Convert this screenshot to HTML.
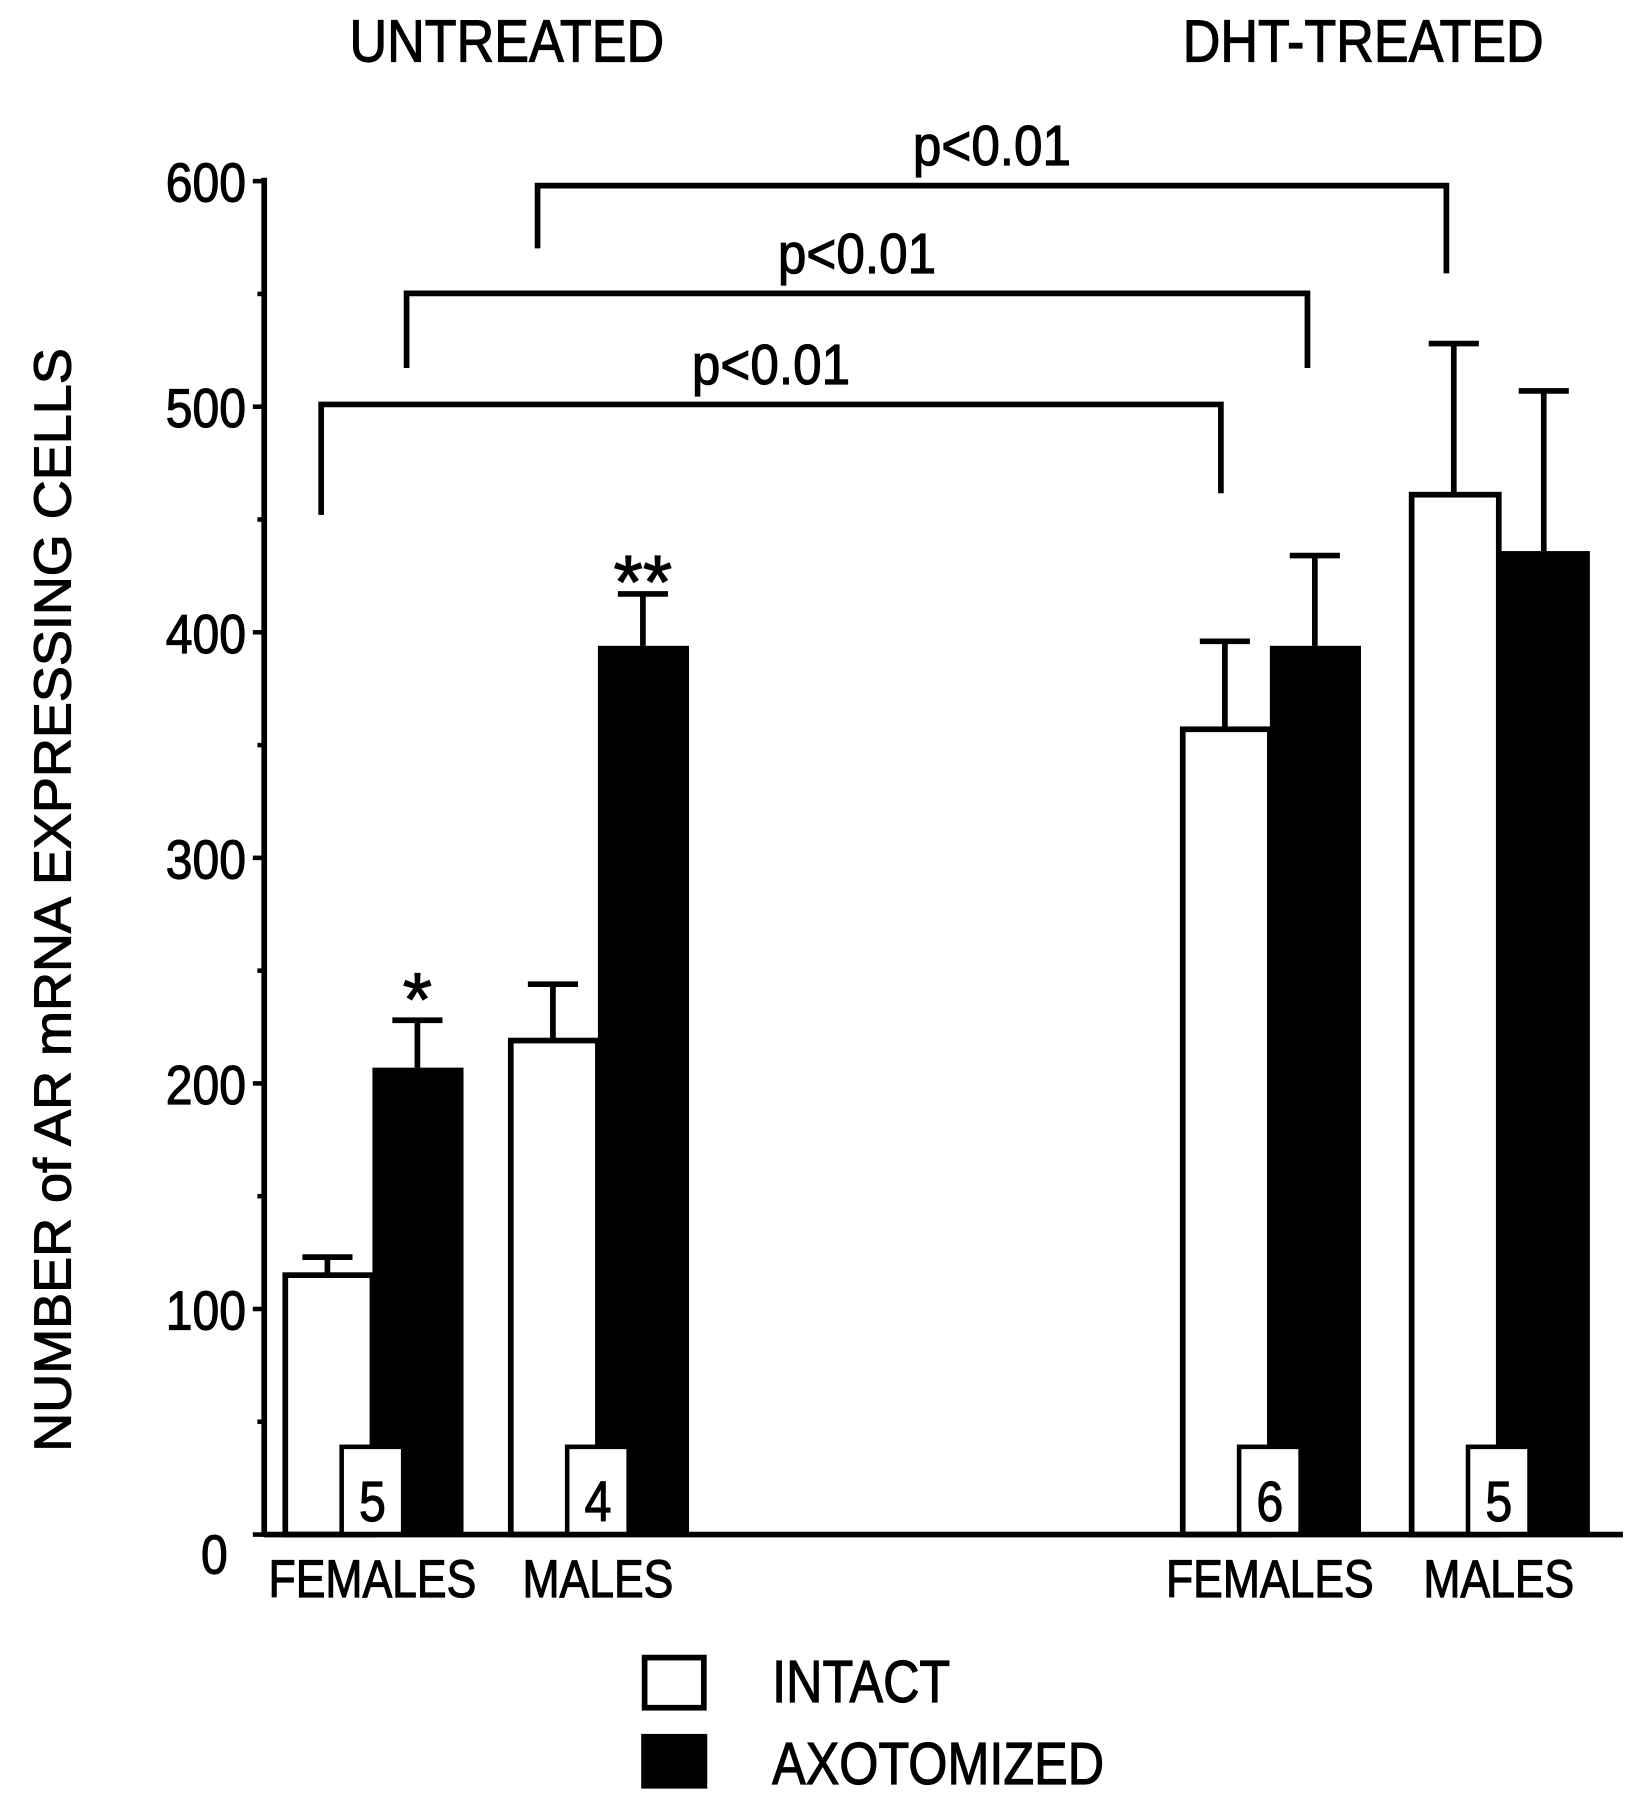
<!DOCTYPE html>
<html><head><meta charset="utf-8"><style>
html,body{margin:0;padding:0;background:#fff}
svg{display:block}
text{font-family:"Liberation Sans",sans-serif;fill:#000;stroke:#000;stroke-width:1}
</style></head><body>
<svg id="chart" width="1640" height="1800" viewBox="0 0 1440 1580" preserveAspectRatio="none" xmlns="http://www.w3.org/2000/svg">
<g id="static">
<text x="445" y="54" font-size="52" text-anchor="middle" transform="translate(445 0) scale(0.88 1) translate(-445 0)">UNTREATED</text>
<text x="1197" y="54" font-size="52" text-anchor="middle" transform="translate(1197 0) scale(0.88 1) translate(-1197 0)">DHT-TREATED</text>
<text x="0" y="0" font-size="46" text-anchor="middle" stroke-width="1.5" transform="translate(62 790) rotate(-90) scale(1.03 1)">NUMBER of AR mRNA EXPRESSING CELLS</text>
<rect x="566" y="1455" width="52" height="44" fill="#fff" stroke="#000" stroke-width="5"/>
<text x="678" y="1494" font-size="52" transform="translate(678 0) scale(0.85 1) translate(-678 0)">INTACT</text>
<rect x="563" y="1522" width="58" height="48" fill="#000"/>
<text x="678" y="1566" font-size="52" transform="translate(678 0) scale(0.85 1) translate(-678 0)">AXOTOMIZED</text>
</g>
<g id="plot"></g>
</svg>
<script>
const groups = ["FEMALES","MALES","FEMALES","MALES"];
const intactValues = [115, 219, 357, 461];
const intactErrTop = [123, 244, 396, 528];
const axoValues = [207, 394, 394, 436];
const axoErrTop = [228, 417, 434, 507];
const nLabels = ["5","4","6","5"];
const yTicks = [0,100,200,300,400,500,600];
const brackets = [
  {from:0, to:2, level:500, label:"p<0.01"},
  {from:0.5, to:2.5, level:550, label:"p<0.01"},
  {from:1, to:3, level:598, label:"p<0.01"}
];
const stars = [{group:0, text:"*", value:250},{group:1, text:"**", value:435}];

const NS="http://www.w3.org/2000/svg";
const plot=document.getElementById('plot');
const y0=1347, yPer=1.98;
const y=v=>y0-v*yPer;
const groupX=[248,446,1036,1237];
const barW=79;
function mk(tag,attrs,parent){const e=document.createElementNS(NS,tag);for(const k in attrs)e.setAttribute(k,attrs[k]);(parent||plot).appendChild(e);return e;}

let ax=mk('line',{x1:232,y1:y(600)-3,x2:232,y2:y0+2,stroke:'#000','stroke-width':5});


for(let v=0;v<=600;v+=50){
  const t=mk('line',{x1:v%100===0?222:226,y1:y(v),x2:232,y2:y(v),stroke:'#000','stroke-width':4});
  
  
}
yTicks.forEach(v=>{
  const t=mk('text',{x:v===0?200:216,y:y(v)+(v===0?34:18),'font-size':48,'text-anchor':'end',transform:`translate(${v===0?200:216} 0) scale(0.88 1) translate(${-(v===0?200:216)} 0)`});
  t.textContent=v;
  
  
});
groups.forEach((g,i)=>{
  const x=groupX[i];
  const ib=mk('rect',{x:x+2.5,y:y(intactValues[i]),width:barW-2.5,height:y0-y(intactValues[i]),fill:'#fff',stroke:'#000','stroke-width':5});
  
  
  const ab=mk('rect',{x:x+barW,y:y(axoValues[i]),width:barW+1,height:y0-y(axoValues[i]),fill:'#000'});
  
  
  [[x+barW/2,intactValues[i],intactErrTop[i]],[x+barW*1.5,axoValues[i],axoErrTop[i]]].forEach(([cx,v,e])=>{
    const eb=mk('path',{d:`M${cx} ${y(v)} V${y(e)} M${cx-22} ${y(e)} H${cx+22}`,stroke:'#000','stroke-width':5,fill:'none'});
    
    
  });
  const bx=x+barW-27;
  const nb=mk('rect',{x:bx,y:y0-77,width:54,height:77,fill:'#fff',stroke:'#000','stroke-width':4});
  
  
  const nt=mk('text',{x:bx+27,y:y0-12,'font-size':50,'text-anchor':'middle','stroke-width':0.5,transform:`translate(${bx+27} 0) scale(0.85 1) translate(${-(bx+27)} 0)`});
  nt.textContent=nLabels[i];
  
  
  const cl=mk('text',{x:x+barW,y:1402,'font-size':46,'text-anchor':'middle',transform:`translate(${x+barW} 0) scale(0.85 1) translate(${-(x+barW)} 0)`});
  cl.textContent=g;
  
  
});
let base=mk('line',{x1:232,y1:y0,x2:1425,y2:y0,stroke:'#000','stroke-width':5});


const bx0=[282,357,472], bx1=[1072,1148,1270];
const dropL=[452,323,218], dropR=[433,323,240];
brackets.forEach((b,i)=>{
  const yy=y(b.level)+(i===0?-2:i===1?-0.5:0);
  const p=mk('path',{d:`M${bx0[i]} ${dropL[i]} V${yy} H${bx1[i]} V${dropR[i]}`,stroke:'#000','stroke-width':5,fill:'none'});
  
  
  const cx=(bx0[i]+bx1[i])/2;
  const t=mk('text',{x:cx,y:yy-18,'font-size':50,'text-anchor':'middle',transform:`translate(${cx} 0) scale(0.9 1) translate(${-cx} 0)`});
  t.textContent=b.label;
  
  
});
stars.forEach(s=>{
  const t=mk('text',{x:groupX[s.group]+barW*1.5,y:y(s.value)+48,'font-size':66,'text-anchor':'middle'});
  t.textContent=s.text;
  
  
});
</script>
</body></html>
